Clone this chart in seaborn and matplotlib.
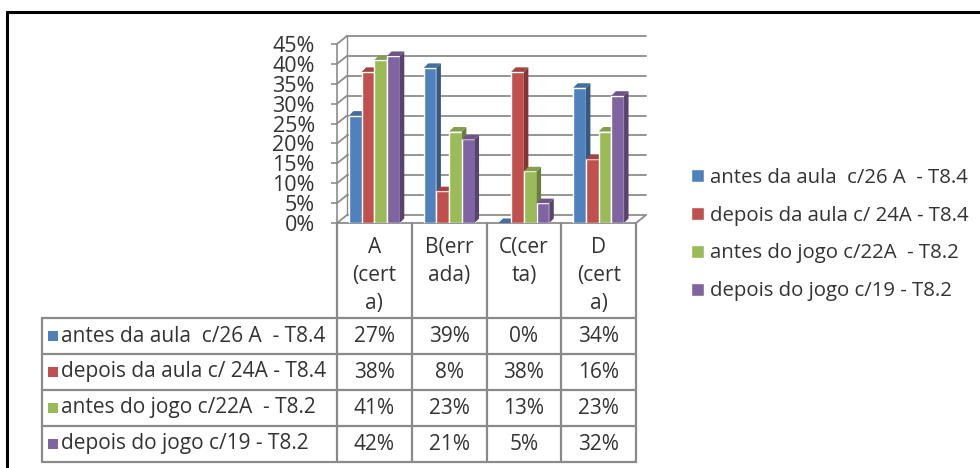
import matplotlib
matplotlib.use("Agg")
import matplotlib.pyplot as plt
import matplotlib.transforms as mtransforms
from matplotlib.patches import Polygon, Rectangle
from matplotlib.lines import Line2D
from matplotlib.ticker import PercentFormatter
import seaborn as sns
import pandas as pd
import numpy as np

# dados
categories = ["A\n(cert\na)", "B(err\nada)", "C(cer\nta)", "D\n(cert\na)"]
series = ["antes da aula  c/26 A  - T8.4",
          "depois da aula c/ 24A - T8.4",
          "antes do jogo c/22A  - T8.2",
          "depois do jogo c/19 - T8.2"]
antes_aula = [0.27, 0.39, 0.00, 0.34]
depois_aula = [0.38, 0.08, 0.38, 0.16]
antes_jogo = [0.41, 0.23, 0.13, 0.23]
depois_jogo = [0.42, 0.21, 0.05, 0.32]
colors = ["#4F81BD", "#C0504D", "#9BBB59", "#8064A2"]

values = [antes_aula, depois_aula, antes_jogo, depois_jogo]
rows = []
for s, vals in zip(series, values):
    for c, v in zip(categories, vals):
        rows.append({"cat": c, "serie": s, "val": v})
df = pd.DataFrame(rows)

sns.set_style("white")
plt.rcParams['font.family'] = ['Open Sans', 'DejaVu Sans']
TXT = '#333333'
GRID = '#8c8c8c'
FS = 15

W, H = 980, 468
fig = plt.figure(figsize=(W / 100, H / 100), dpi=100)


def fx(x):
    return x / W


def fy(y):
    return 1 - y / H


IDT = mtransforms.IdentityTransform()

ax = fig.add_axes([fx(337), fy(223), fx(636) - fx(337), fy(44) - fy(223)])
sns.barplot(data=df, x="cat", y="val", hue="serie", palette=colors,
            width=0.68, saturation=1, ax=ax)
handles, labels = ax.get_legend_handles_labels()
if ax.legend_ is not None:
    ax.legend_.remove()

ax.set_xlim(-0.5, 3.5)
ax.set_ylim(0, 0.45)
ax.set_xlabel("")
ax.set_ylabel("")
ax.set_xticks([])
ax.set_yticks(np.arange(0, 0.451, 0.05))
ax.yaxis.set_major_formatter(PercentFormatter(1, decimals=0))
ax.tick_params(axis='y', length=4, width=1.2, color=GRID, pad=12,
               labelsize=15.5, labelcolor=TXT, left=True)
for sp in ['top', 'right', 'bottom']:
    ax.spines[sp].set_visible(False)
ax.spines['left'].set_color(GRID)
ax.spines['left'].set_linewidth(1.2)
ax.patch.set_alpha(0)

# profundidade 3D (pixels)
DX, DY = 10, 8
back = ax.transData + mtransforms.ScaledTranslation(DX / 100, DY / 100, fig.dpi_scale_trans)
for v in ax.get_yticks():
    ax.plot([-0.5, 3.5], [v, v], transform=back, color=GRID, lw=1.3,
            clip_on=False, zorder=0.5)
    p0 = ax.transData.transform((-0.5, v))
    fig.add_artist(Line2D([p0[0], p0[0] + DX], [p0[1], p0[1] + DY],
                          transform=IDT, color=GRID, lw=1.3))
ax.plot([-0.5, -0.5], [0, 0.45], transform=back, color=GRID, lw=1.0,
        clip_on=False, zorder=0.5)
# chão
ax.plot([-0.5, 3.5], [0, 0], color=GRID, lw=1.3, clip_on=False, zorder=0.6)
p0 = ax.transData.transform((3.5, 0))
fig.add_artist(Line2D([p0[0], p0[0] + DX], [p0[1], p0[1] + DY],
                      transform=IDT, color=GRID, lw=1.3))

# faces laterais e topo das barras
d = np.array([4.5, 4.5])
for k, cont in enumerate(ax.containers):
    base = np.array(matplotlib.colors.to_rgb(colors[k]))
    for bar in cont:
        bar.set_zorder(2 + k)
        x0, y0 = bar.get_x(), bar.get_y()
        x1, y1 = x0 + bar.get_width(), y0 + bar.get_height()
        br = ax.transData.transform((x1, y0))
        tl = ax.transData.transform((x0, y1))
        tr = ax.transData.transform((x1, y1))
        side = Polygon([br, br + d, tr + d, tr], closed=True, transform=IDT,
                       facecolor=base * 0.68, edgecolor='none', zorder=2 + k)
        top = Polygon([tl, tr, tr + d, tl + d], closed=True, transform=IDT,
                      facecolor=base * 0.85, edgecolor='none', zorder=2 + k)
        ax.add_artist(side)
        ax.add_artist(top)

# tabela de dados
col_edges = [ax.transData.transform((x, 0))[0] for x in np.arange(-0.5, 4.0, 1.0)]
LEFT = 42
row_edges = [318, 354, 390, 426, 462]
LC = '#8a8a8a'
LW = 1.6


def hline(x0, x1, y):
    fig.add_artist(Line2D([x0, x1], [H - y, H - y], transform=IDT, color=LC, lw=LW))


def vline(x, y0, y1):
    fig.add_artist(Line2D([x, x], [H - y0, H - y1], transform=IDT, color=LC, lw=LW))


for x in col_edges:
    vline(x, 223, row_edges[-1])
vline(LEFT, row_edges[0], row_edges[-1])
for y in row_edges:
    hline(LEFT, col_edges[-1], y)

for j, c in enumerate(categories):
    xc = (col_edges[j] + col_edges[j + 1]) / 2
    fig.text(xc / W, fy(237), c, ha='center', va='top', fontsize=FS,
             color=TXT, linespacing=1.45)

for i, (s, vals) in enumerate(zip(series, values)):
    yc = (row_edges[i] + row_edges[i + 1]) / 2
    fig.add_artist(Rectangle((48, H - yc - 5), 10, 10, transform=IDT,
                             facecolor=colors[i], edgecolor='none'))
    fig.text(fx(61), fy(yc), s, ha='left', va='center', fontsize=FS, color=TXT)
    for j, v in enumerate(vals):
        xc = (col_edges[j] + col_edges[j + 1]) / 2
        fig.text(xc / W, fy(yc), f"{round(v * 100)}%", ha='center',
                 va='center', fontsize=FS, color=TXT)

# legenda
fig.legend(handles, labels, loc='center left',
           bbox_to_anchor=(fx(673), fy(234.5)), frameon=False, fontsize=14.7,
           handlelength=0.6, handleheight=0.6, handletextpad=0.3,
           labelspacing=0.88, labelcolor=TXT)

# moldura
fig.add_artist(Line2D([7, 7], [0, H - 12], transform=IDT, color='black', lw=2.2))
fig.add_artist(Line2D([7, W], [H - 12, H - 12], transform=IDT, color='black', lw=2.2))

fig.savefig("out.png", dpi=100)
